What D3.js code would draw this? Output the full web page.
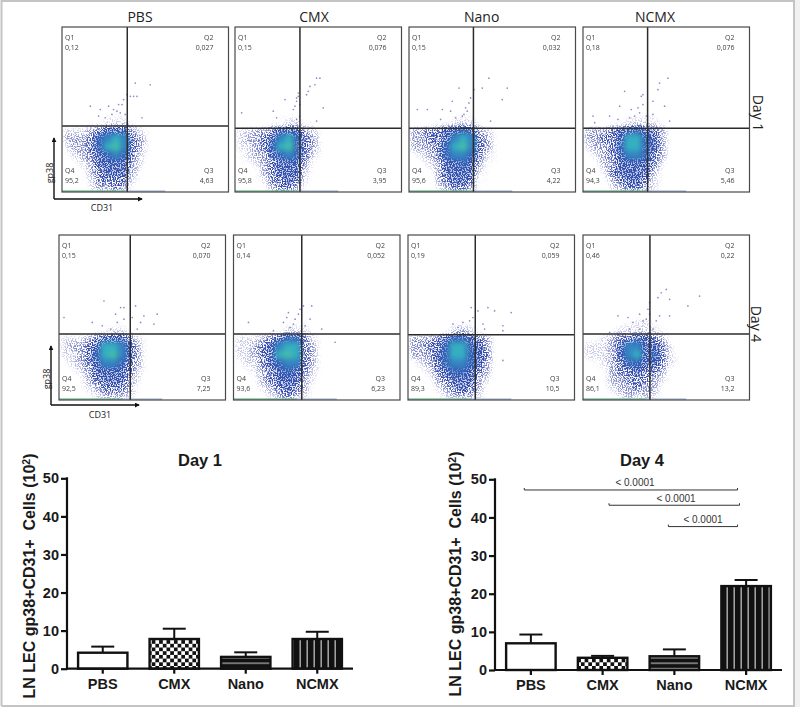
<!DOCTYPE html>
<html><head><meta charset="utf-8">
<script src="https://cdn.jsdelivr.net/npm/d3@7/dist/d3.min.js"></script>
<style>html,body{margin:0;background:#fff}svg{display:block}</style></head>
<body><svg id="c" width="800" height="707"></svg>
<script>
// ---------- data ----------
const groups = ["PBS","CMX","Nano","NCMX"];
const day1Values = [4.2,7.8,3.1,7.8];
const day1ErrTop = [5.8,10.5,4.3,9.7];
const day4Values = [7.0,3.2,3.6,22.0];
const day4ErrTop = [9.3,3.7,5.4,23.6];
const yTicks = [0,10,20,30,40,50];
const day4Brackets = [
  {from:"PBS", to:"NCMX", y:47.2, label:"< 0.0001"},
  {from:"CMX", to:"NCMX", y:43.2, label:"< 0.0001"},
  {from:"Nano",to:"NCMX", y:37.6, label:"< 0.0001"}];

// quadrant percentages [Q1,Q2,Q3,Q4]
const day1Quad = [["0,12","0,027","4,63","95,2"],["0,15","0,076","3,95","95,8"],["0,15","0,032","4,22","95,6"],["0,18","0,076","5,46","94,3"]];
const day4Quad = [["0,15","0,070","7,25","92,5"],["0,14","0,052","6,23","93,6"],["0,19","0,059","10,5","89,3"],["0,46","0,22","13,2","86,1"]];
// gate position, percent of each axis
const day1Gates = [[39.2,40],[39,38.6],[38.7,38.6],[38.8,38.6]];
const day4Gates = [[42.8,40],[41,40],[40.4,39.5],[40.2,40]];

// density estimate 0..9 per 5x5 percent cell; rows top (y 50) to bottom (y 0), cols x 0..60
const day1Density = [
 [[0,0,0,0,0,1,1,1,0,0,0,0],
  [0,0,0,1,1,2,2,2,1,0,0,0],
  [2,2,2,3,4,5,5,5,3,2,1,0],
  [3,3,3,4,6,7,8,7,4,3,1,0],
  [2,3,3,4,6,8,9,7,4,3,1,0],
  [1,2,3,4,5,6,7,6,4,2,1,0],
  [0,1,2,3,5,5,5,5,3,2,0,0],
  [0,0,1,3,4,5,5,5,3,1,0,0],
  [0,0,1,2,4,4,4,4,2,1,0,0],
  [0,0,0,2,3,3,4,3,1,0,0,0]],
 [[0,0,0,0,0,1,1,1,0,0,0,0],
  [0,0,0,0,1,1,2,2,1,1,0,0],
  [2,2,3,3,4,5,5,5,3,2,1,0],
  [2,3,3,4,5,7,8,6,4,3,1,0],
  [2,2,3,4,6,8,9,6,4,3,1,0],
  [1,2,3,3,5,6,7,6,4,2,1,0],
  [1,1,2,3,4,5,5,5,3,1,0,0],
  [0,0,1,3,4,5,5,5,2,1,0,0],
  [0,0,1,2,4,4,5,4,2,0,0,0],
  [0,0,0,1,3,4,4,3,1,0,0,0]],
 [[0,0,0,0,0,1,1,1,0,0,0,0],
  [0,0,0,1,1,2,2,2,1,0,0,0],
  [3,3,4,4,5,5,6,5,3,2,1,0],
  [3,3,4,4,5,7,8,7,4,3,1,0],
  [3,3,3,4,6,8,9,7,4,3,1,0],
  [1,2,3,4,6,7,7,6,4,2,1,0],
  [0,1,2,3,5,5,6,5,3,1,1,0],
  [0,0,1,3,5,5,5,5,2,1,0,0],
  [0,0,0,3,4,5,5,4,1,1,0,0],
  [0,0,0,2,3,4,4,3,1,1,0,0]],
 [[0,0,0,1,0,1,1,1,1,0,0,0],
  [0,0,0,1,1,2,2,2,2,1,0,0],
  [3,3,3,4,5,5,6,5,4,3,1,0],
  [3,3,4,4,5,8,8,6,5,3,1,0],
  [2,3,3,4,6,8,8,6,5,3,1,0],
  [1,2,3,4,5,7,7,6,4,3,1,0],
  [0,1,3,3,5,5,5,5,4,2,0,0],
  [0,0,2,4,5,5,5,5,3,1,0,0],
  [0,0,1,3,4,5,5,4,2,1,0,0],
  [0,0,0,2,3,4,4,3,2,1,0,0]]];
const day4Density = [
 [[0,0,0,0,0,1,0,1,0,1,0,0],
  [0,0,0,0,1,1,2,2,1,0,0,0],
  [2,2,2,3,4,5,5,5,4,2,1,0],
  [2,3,3,4,5,8,8,7,5,3,1,0],
  [2,2,3,4,6,8,9,7,5,3,1,0],
  [1,2,3,4,5,7,7,6,4,3,1,0],
  [0,1,2,3,5,5,5,5,4,2,1,0],
  [0,0,1,3,4,5,5,5,3,2,0,0],
  [0,0,1,2,3,4,4,4,3,1,0,0],
  [0,0,0,1,2,3,3,3,2,1,0,0]],
 [[0,0,0,0,0,0,1,1,1,0,0,0],
  [0,0,0,0,1,1,2,2,2,1,0,0],
  [2,2,2,3,4,5,6,6,4,2,1,0],
  [2,2,3,4,5,7,8,8,4,3,1,0],
  [2,2,3,4,5,8,9,8,4,3,1,0],
  [1,2,2,4,5,6,7,7,4,3,1,0],
  [0,1,2,3,4,5,6,5,4,2,1,0],
  [0,0,1,3,4,5,5,5,3,2,0,0],
  [0,0,1,2,3,4,5,4,3,1,0,0],
  [0,0,0,1,2,3,4,3,2,1,0,0]],
 [[0,0,0,0,0,1,1,1,0,1,0,0],
  [0,0,0,0,1,2,3,2,1,0,0,0],
  [3,3,3,4,5,6,6,5,4,3,1,0],
  [3,3,4,4,6,8,8,6,5,3,1,0],
  [3,3,3,5,6,8,8,6,5,4,1,0],
  [1,2,3,4,6,7,7,6,5,3,1,0],
  [0,1,2,4,5,6,6,5,4,3,1,0],
  [0,0,1,3,4,5,5,5,3,2,0,0],
  [0,0,0,2,3,4,5,4,3,1,0,0],
  [0,0,0,1,2,3,3,3,2,1,0,0]],
 [[0,0,0,0,1,1,2,2,1,1,0,0],
  [0,0,0,1,2,2,2,2,2,1,1,0],
  [1,1,2,3,4,4,5,5,4,3,1,0],
  [2,2,2,3,5,7,7,5,5,4,2,0],
  [2,2,2,3,5,7,8,5,6,4,2,1],
  [1,1,2,3,4,6,6,5,5,4,2,1],
  [0,1,1,3,4,4,5,4,4,3,1,0],
  [0,0,1,3,3,4,4,4,3,2,1,0],
  [0,0,1,2,3,3,4,3,3,1,0,0],
  [0,0,0,1,2,3,2,3,2,1,0,0]]];

// isolated events [x%, y%]
const day1Points = [
 [[44,66],[53,65],[39,59],[41,58],[43,58],[45,58],[37,56],[34,53],[28,52],[17,52],[23,50],[48,45],[35,48],[30,47],[26,45],[33,49],[38,47],[22,46],[36,53],[31,50]],
 [[49,69],[51,69],[48,65],[45,64],[44,61],[43,59],[38,58],[37,55],[35,50],[30,56],[23,49],[4,48],[53,51],[49,43],[25,45],[39,46],[37,44],[36,52],[38,60],[37,57],[39,53]],
 [[48,69],[44,63],[39,62],[30,63],[59,63],[56,56],[5,50],[11,50],[26,55],[20,50],[37,57],[34,51],[35,49],[25,49],[32,46],[49,43],[28,45],[19,44],[36,54],[33,47]],
 [[51,69],[46,66],[45,62],[25,61],[35,58],[42,55],[22,52],[29,50],[16,46],[21,44],[34,48],[38,46],[7,42],[6,46],[49,52],[52,43],[28,45],[42,47],[36,53],[36,59],[33,51],[31,46]]];
const day4Points = [
 [[27,60],[37,56],[39,56],[46,57],[59,52],[34,52],[51,51],[20,47],[3,50],[57,46],[49,47],[39,49],[47,43],[26,45],[31,43],[35,47],[44,50]],
 [[47,57],[42,57],[33,53],[39,52],[9,47],[30,47],[36,46],[46,49],[53,43],[24,42],[43,45],[61,35],[32,50],[40,55],[37,49],[34,44]],
 [[38,56],[42,54],[48,56],[52,54],[62,53],[57,45],[45,46],[57,42],[27,46],[33,47],[37,48],[46,43],[57,24],[30,44],[39,50]],
 [[50,67],[47,65],[45,62],[70,63],[63,57],[40,59],[52,61],[21,51],[27,50],[52,51],[39,55],[34,52],[30,47],[44,48],[36,48],[40,45],[46,51],[16,41],[28,43],[34,43],[42,43],[40,52],[38,49]]];

// ---------- layout ----------
const svg = d3.select("#c");
const SANS = "'Liberation Sans',Arial,sans-serif", LABEL = "'Open Sans',sans-serif";
const defs = svg.append("defs");

svg.append("rect").attr("width",800).attr("height",707).attr("fill","#fff");
svg.append("rect").attr("x",794).attr("width",6).attr("height",707).attr("fill","#f1f1f1");
svg.append("path").attr("d","M1.5 706V1H794V706H1.5").attr("fill","none").attr("stroke","#c4c4c4").attr("stroke-width",2);

// speckle filter: turns the smooth density into a grainy scatter texture
const f = defs.append("filter").attr("id","speck").attr("x","-5%").attr("y","-5%").attr("width","110%").attr("height","110%")
  .attr("color-interpolation-filters","sRGB");
f.append("feGaussianBlur").attr("in","SourceGraphic").attr("stdDeviation",2.4).attr("result","b");
f.append("feTurbulence").attr("type","fractalNoise").attr("baseFrequency",0.8).attr("numOctaves",1).attr("seed",4).attr("result","n");
f.append("feColorMatrix").attr("in","n").attr("type","matrix")
  .attr("values","0 0 0 0 1  0 0 0 0 1  0 0 0 0 1  7 0 0 0 -3").attr("result","m");
f.append("feComposite").attr("in","b").attr("in2","m").attr("operator","arithmetic")
  .attr("k1",0).attr("k2",2.1).attr("k3",1).attr("k4",-1.35).attr("result","mask");
f.append("feComposite").attr("in","b").attr("in2","mask").attr("operator","in").attr("result","c");
const ct=f.append("feComponentTransfer").attr("in","c").attr("result","d");
ct.append("feFuncA").attr("type","linear").attr("slope",1.6);
f.append("feGaussianBlur").attr("in","d").attr("stdDeviation",0.3);

const colour = d3.scaleLinear().domain([1,3,5,6,7,8,9])
  .range(["#4a52b8","#3a46ac","#3250b0","#3364b8","#3586c2","#35aec2","#43bda8"]);
const cellOpacity = d3.scaleLinear().domain([0,1,2,3,4,5,6,7]).range([0,.2,.36,.5,.62,.74,.88,1]).clamp(true);

const panelW = 166.5, panelH = 165;
const rows = [
 {name:"Day 1", top:27, xs:[62,235,409,583], titleOff:[78,79,72.7,72], gates:day1Gates, quad:day1Quad, density:day1Density, points:day1Points},
 {name:"Day 4", top:235,xs:[59,233.5,408,583], gates:day4Gates, quad:day4Quad, density:day4Density, points:day4Points}];

rows.forEach((row,ri)=>{
  groups.forEach((g,i)=>{
    const left=row.xs[i], top=row.top;
    const x=d3.scaleLinear().domain([0,100]).range([left,left+panelW]);
    const y=d3.scaleLinear().domain([0,100]).range([top+panelH,top]);
    const id=`clip${ri}${i}`;
    defs.append("clipPath").attr("id",id).append("rect")
      .attr("x",left).attr("y",top).attr("width",panelW).attr("height",panelH);
    const p=svg.append("g");
    p.append("rect").attr("x",left).attr("y",top).attr("width",panelW).attr("height",panelH).attr("fill","#fff");
    const clip=p.append("g").attr("clip-path",`url(#${id})`);
    const cells=[];
    row.density[i].forEach((r,ry)=>r.forEach((v,cx)=>{ if(v>0) cells.push({cx,ry,v}); }));
    const nR=row.density[i].length;
    clip.append("g").attr("filter","url(#speck)").selectAll("rect").data(cells).join("rect")
      .attr("x",d=>x(d.cx*5)).attr("y",d=>y((nR-d.ry)*5))
      .attr("width",x(5)-x(0)+.5).attr("height",y(0)-y(5)+.5)
      .attr("fill",d=>colour(d.v)).attr("opacity",d=>cellOpacity(d.v));
    clip.append("g").selectAll("circle").data(row.points[i]).join("circle")
      .attr("cx",d=>x(d[0])).attr("cy",d=>y(d[1])).attr("r",.85)
      .attr("fill","#6068b4").attr("opacity",.75);
    // pile-up on the lower edge
    clip.append("line").attr("x1",x(0)).attr("x2",x(38)).attr("y1",y(.5)).attr("y2",y(.5)).attr("stroke","#4da074").attr("stroke-width",1.3);
    clip.append("line").attr("x1",x(38)).attr("x2",x(62)).attr("y1",y(.5)).attr("y2",y(.5)).attr("stroke","#6f86b6").attr("stroke-width",1.2).attr("opacity",.7);
    // gates
    const [gx,gy]=row.gates[i];
    p.append("line").attr("x1",x(gx)).attr("x2",x(gx)).attr("y1",y(100)).attr("y2",y(0)).attr("stroke","#2b2b2b").attr("stroke-width",1.5);
    p.append("line").attr("x1",x(0)).attr("x2",x(100)).attr("y1",y(gy)).attr("y2",y(gy)).attr("stroke","#2b2b2b").attr("stroke-width",1.5);
    p.append("rect").attr("x",left).attr("y",top).attr("width",panelW).attr("height",panelH).attr("fill","none").attr("stroke","#4a4a4a").attr("stroke-width",1.2);
    // quadrant labels
    const names=["Q1","Q2","Q3","Q4"];
    const anchor=[["start",left+3],["end",left+panelW-15],["end",left+panelW-15],["start",left+3]];
    names.forEach((n,k)=>{
      const yy = k<2 ? top+13 : top+145.5;
      const t=p.append("g").attr("font-family",LABEL).attr("font-size",7).attr("fill","#3c3c3c").attr("text-anchor",anchor[k][0]).attr("opacity",.98);
      t.append("text").attr("x",anchor[k][1]).attr("y",yy).text(n);
      t.append("text").attr("x",anchor[k][1]).attr("y",yy+10).text(row.quad[i][k]);
    });
    if(ri===0) svg.append("text").attr("x",left+row.titleOff[i]).attr("y",22).attr("text-anchor","middle")
      .attr("font-family",LABEL).attr("font-size",14).attr("fill","#222").text(g);
  });
});

// gp38 / CD31 arrows
defs.append("marker").attr("id","arr").attr("viewBox","0 0 6 6").attr("refX",5).attr("refY",3)
  .attr("markerWidth",5).attr("markerHeight",5).attr("markerUnits","userSpaceOnUse").attr("orient","auto")
  .append("path").attr("d","M0 0L6 3L0 6Z").attr("fill","#111");
[{x:54,b:199,t:138,r:142,gy:173,lx:102,ly:210.5},{x:51,b:405,t:346,r:139,gy:379,lx:100,ly:417.5}].forEach(a=>{
  svg.append("path").attr("d",`M${a.x} ${a.b}V${a.t}`).attr("stroke","#111").attr("stroke-width",1.4).attr("marker-end","url(#arr)").attr("fill","none");
  svg.append("path").attr("d",`M${a.x} ${a.b}H${a.r}`).attr("stroke","#111").attr("stroke-width",1.4).attr("marker-end","url(#arr)").attr("fill","none");
  svg.append("text").attr("transform",`translate(${a.x-1},${a.gy}) rotate(-90)`).attr("text-anchor","middle")
    .attr("font-family",LABEL).attr("font-size",9).attr("fill","#222").text("gp38");
  svg.append("text").attr("x",a.lx).attr("y",a.ly).attr("text-anchor","middle")
    .attr("font-family",LABEL).attr("font-size",9).attr("fill","#222").text("CD31");
});
[{t:"Day 1",x:753,y:113},{t:"Day 4",x:751,y:324}].forEach(d=>{
  svg.append("text").attr("transform",`translate(${d.x},${d.y}) rotate(90)`).attr("text-anchor","middle")
    .attr("font-family",LABEL).attr("font-size",14).attr("fill","#222").text(d.t);
});

// ---------- bar patterns ----------
const check=defs.append("pattern").attr("id","pCheck").attr("patternUnits","userSpaceOnUse").attr("width",7.4).attr("height",7.4);
check.append("rect").attr("width",7.4).attr("height",7.4).attr("fill","#fff");
check.append("rect").attr("width",3.7).attr("height",3.7).attr("fill","#111");
check.append("rect").attr("x",3.7).attr("y",3.7).attr("width",3.7).attr("height",3.7).attr("fill","#111");
const horiz=defs.append("pattern").attr("id","pHoriz").attr("patternUnits","userSpaceOnUse").attr("width",8).attr("height",5.3);
horiz.append("rect").attr("width",8).attr("height",5.3).attr("fill","#111");
horiz.append("rect").attr("y",.3).attr("width",8).attr("height",.9).attr("fill","#e8e8e8");
const vert=defs.append("pattern").attr("id","pVert").attr("patternUnits","userSpaceOnUse").attr("width",7).attr("height",8);
vert.append("rect").attr("width",7).attr("height",8).attr("fill","#111");
vert.append("rect").attr("x",5.6).attr("width",1.1).attr("height",8).attr("fill","#ddd");
const fills=["#fff","url(#pCheck)","url(#pHoriz)","url(#pVert)"];

function barChart(o){
  const g=svg.append("g");
  const x=d3.scaleBand().domain(groups).range(o.xr).paddingInner(.31).paddingOuter(.155);
  const y=d3.scaleLinear().domain([0,50]).range(o.yr);
  g.selectAll(".w").data(groups).join("g").each(function(c,i){
    const cx=x(c)+x.bandwidth()/2, s=d3.select(this);
    s.append("line").attr("x1",cx).attr("x2",cx).attr("y1",y(o.values[i])).attr("y2",y(o.err[i])).attr("stroke","#111").attr("stroke-width",2);
    s.append("line").attr("x1",cx-11.5).attr("x2",cx+11.5).attr("y1",y(o.err[i])).attr("y2",y(o.err[i])).attr("stroke","#111").attr("stroke-width",2);
  });
  g.selectAll(".b").data(groups).join("rect")
    .attr("x",c=>x(c)).attr("width",x.bandwidth())
    .attr("y",(c,i)=>y(o.values[i])).attr("height",(c,i)=>y(0)-y(o.values[i]))
    .attr("fill",(c,i)=>fills[i]).attr("stroke","#111").attr("stroke-width",2.4);
  const ya=g.append("g").attr("transform",`translate(${o.xr[0]},0)`)
    .call(d3.axisLeft(y).tickValues(yTicks).tickSize(6).tickPadding(2).tickFormat(d3.format("d")));
  const xa=g.append("g").attr("transform",`translate(0,${o.yr[0]})`)
    .call(d3.axisBottom(x).tickSize(5).tickPadding(5));
  [ya,xa].forEach(a=>{
    a.selectAll("path,line").attr("stroke","#111").attr("stroke-width",2.2);
    a.selectAll("text").attr("font-family",SANS).attr("font-weight","bold").attr("font-size",14.5).attr("fill","#1a1a1a");
  });
  ya.select("path").attr("d",`M0 ${o.yr[0]+1}V${o.yr[1]-1}`);
  xa.select("path").attr("d",`M${o.xr[0]-1} 0H${o.xr[1]}`);
  g.append("text").attr("x",o.titleX).attr("y",o.titleY).attr("text-anchor","middle")
    .attr("font-family",SANS).attr("font-weight","bold").attr("font-size",16.5).attr("fill","#1a1a1a").text(o.title);
  const t=g.append("text").attr("transform",`translate(${o.labX},${o.labY}) rotate(-90)`).attr("text-anchor","middle")
    .attr("font-family",SANS).attr("font-weight","bold").attr("font-size",16).attr("fill","#1a1a1a").attr("xml:space","preserve").style("white-space","pre");
  t.append("tspan").text("LN LEC gp38+CD31+  Cells (10");
  t.append("tspan").attr("font-size",10.5).attr("dy",-5.5).text("2");
  t.append("tspan").attr("dy",5.5).text(")");
  (o.brackets||[]).forEach((b,k)=>{
    const x0=x(b.from)+x.bandwidth()/2+o.brOff[k][0], x1=x(b.to)+x.bandwidth()/2+o.brOff[k][1];
    g.append("path").attr("d",`M${x0} ${y(b.y)-2}V${y(b.y)}H${x1}V${y(b.y)-2}`).attr("fill","none").attr("stroke","#333").attr("stroke-width",1);
    g.append("text").attr("x",o.brLabelX[k]).attr("y",y(b.y)-o.brLabelDy[k]).attr("text-anchor","middle")
      .attr("font-family",SANS).attr("font-size",10).attr("fill","#333").text(b.label);
  });
}
barChart({xr:[67,353],yr:[668.7,478.3],values:day1Values,err:day1ErrTop,title:"Day 1",titleX:200,titleY:466,labX:35,labY:576});
barChart({xr:[495,782],yr:[670,479.3],values:day4Values,err:day4ErrTop,title:"Day 4",titleX:642,titleY:466,labX:461,labY:574,
  brackets:day4Brackets,brOff:[[-6.6,-8.6],[6.4,-6.6],[-6,-8.6]],brLabelX:[635,676,703],brLabelDy:[4,3.5,3.5]});
</script></body></html>
